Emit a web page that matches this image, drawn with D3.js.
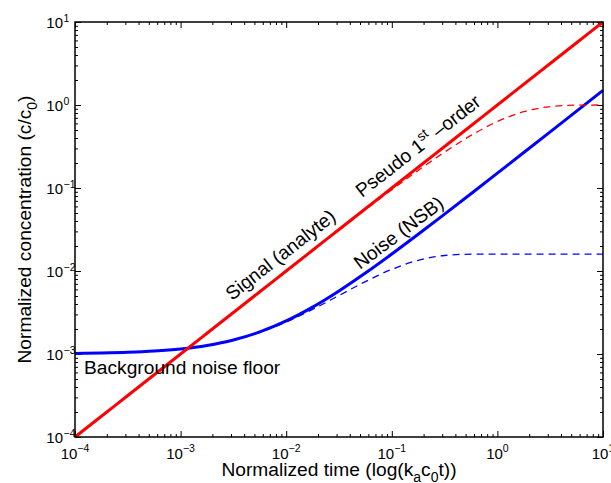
<!DOCTYPE html>
<html>
<head>
<meta charset="utf-8">
<script src="https://cdn.jsdelivr.net/npm/d3@7"></script>
<style>
  body { margin: 0; background: #fff; }
  svg { display: block; font-family: "Liberation Sans", Arial, sans-serif; }
</style>
</head>
<body>
<svg id="chart" width="611" height="483"></svg>
<script>
var width = 611, height = 483
var margin = {top: 22, right: 8, bottom: 46, left: 75}

// normalized time samples (quarter decades)
var times = [1e-4, 1.778e-4, 3.162e-4, 5.623e-4, 1e-3, 1.778e-3, 3.162e-3, 5.623e-3,
  1e-2, 1.778e-2, 3.162e-2, 5.623e-2, 0.1, 0.1778, 0.3162, 0.5623, 1, 1.778, 3.162, 5.623, 10]

// signal (analyte), solid red
var signal = [1e-4, 1.778e-4, 3.162e-4, 5.623e-4, 1e-3, 1.778e-3, 3.162e-3, 5.623e-3,
  1e-2, 1.778e-2, 3.162e-2, 5.623e-2, 0.1, 0.1778, 0.3162, 0.5623, 1, 1.778, 3.162, 5.623, 10]

// pseudo first order, dashed red
var signalPseudo = [1e-4, 1.778e-4, 3.162e-4, 5.62e-4, 9.99e-4, 1.776e-3, 3.157e-3, 5.607e-3,
  9.95e-3, 0.01762, 0.03113, 0.05468, 0.09516, 0.1629, 0.2711, 0.4301, 0.6321, 0.831, 0.9577, 0.9964, 1.0]

// noise (NSB), solid blue
var noise = [1.015e-3, 1.027e-3, 1.047e-3, 1.084e-3, 1.15e-3, 1.267e-3, 1.474e-3, 1.844e-3,
  2.5e-3, 3.667e-3, 5.743e-3, 9.435e-3, 0.016, 0.02767, 0.04843, 0.08535, 0.151, 0.2677, 0.4753, 0.8445, 1.501]

// noise saturating, dashed blue
var noiseSat = [1.015e-3, 1.027e-3, 1.047e-3, 1.084e-3, 1.149e-3, 1.264e-3, 1.467e-3, 1.82e-3,
  2.427e-3, 3.444e-3, 5.067e-3, 7.452e-3, 0.01048, 0.01347, 0.01537, 0.01595, 0.016, 0.016, 0.016, 0.016, 0.016]

var majorTicks = [1e-4, 1e-3, 1e-2, 1e-1, 1, 10]
var exponents = ['\u22124', '\u22123', '\u22122', '\u22121', '0', '1']

var svg = d3.select('#chart')

var xScale = d3.scaleLog()
  .domain([1e-4, 10])
  .range([margin.left, width - margin.right])

var yScale = d3.scaleLog()
  .domain([1e-4, 10])
  .range([height - margin.bottom, margin.top])

var x0 = margin.left, x1 = width - margin.right
var y0 = height - margin.bottom, y1 = margin.top

var minorX = xScale.ticks().filter(d => majorTicks.indexOf(d) < 0)
var minorY = yScale.ticks().filter(d => majorTicks.indexOf(d) < 0)

// inward ticks on all four sides
function tickAxes(axisFn, scale, vals, size, transform) {
  svg.append('g')
    .attr('transform', transform)
    .call(axisFn(scale).tickValues(vals).tickSize(size).tickFormat('').tickSizeOuter(0))
    .call(g => g.select('.domain').remove())
    .selectAll('line')
    .attr('stroke', '#000')
    .attr('stroke-width', 1)
}
tickAxes(d3.axisBottom, xScale, majorTicks, -6, `translate(0,${y0})`)
tickAxes(d3.axisBottom, xScale, minorX, -3, `translate(0,${y0})`)
tickAxes(d3.axisTop, xScale, majorTicks, -6, `translate(0,${y1})`)
tickAxes(d3.axisTop, xScale, minorX, -3, `translate(0,${y1})`)
tickAxes(d3.axisLeft, yScale, majorTicks, -6, `translate(${x0},0)`)
tickAxes(d3.axisLeft, yScale, minorY, -3, `translate(${x0},0)`)
tickAxes(d3.axisRight, yScale, majorTicks, -6, `translate(${x1},0)`)
tickAxes(d3.axisRight, yScale, minorY, -3, `translate(${x1},0)`)

// curves
var lineFor = function(vals) {
  return d3.line()
    .x((d, i) => xScale(times[i]))
    .y(d => yScale(d))
    .curve(d3.curveMonotoneX)(vals)
}

var plot = svg.append('g')
plot.append('path').attr('d', lineFor(noiseSat))
  .attr('fill', 'none').attr('stroke', '#0000ff').attr('stroke-width', 1.3).attr('stroke-dasharray', '7,5')
plot.append('path').attr('d', lineFor(noise))
  .attr('fill', 'none').attr('stroke', '#0000ff').attr('stroke-width', 3)
plot.append('path').attr('d', lineFor(signalPseudo))
  .attr('fill', 'none').attr('stroke', '#ff0000').attr('stroke-width', 1.3).attr('stroke-dasharray', '7,5')
plot.append('path').attr('d', lineFor(signal))
  .attr('fill', 'none').attr('stroke', '#ff0000').attr('stroke-width', 3)

// frame
svg.append('rect')
  .attr('x', x0).attr('y', y1)
  .attr('width', x1 - x0).attr('height', y0 - y1)
  .attr('fill', 'none').attr('stroke', '#000').attr('stroke-width', 1.5)

// x tick labels
majorTicks.forEach(function(v, i) {
  var t = svg.append('text')
    .attr('x', xScale(v)).attr('y', y0 + 22)
    .attr('text-anchor', 'middle')
    .attr('font-size', 15)
  t.append('tspan').text('10')
  t.append('tspan').text(exponents[i]).attr('font-size', 10.5).attr('dy', -7)
})

// y tick labels
majorTicks.forEach(function(v, i) {
  svg.append('text')
    .attr('x', x0 - 12).attr('y', yScale(v) + 6)
    .attr('text-anchor', 'end')
    .attr('font-size', 15)
    .text('10')
  svg.append('text')
    .attr('x', x0 - 11.5).attr('y', yScale(v))
    .attr('font-size', 10.5)
    .text(exponents[i])
})

// axis titles
var xt = svg.append('text')
  .attr('x', (x0 + x1) / 2).attr('y', 476)
  .attr('text-anchor', 'middle')
  .attr('font-size', 19.2)
xt.append('tspan').text('Normalized time (log(k')
xt.append('tspan').text('a').attr('font-size', 14).attr('dy', 6)
xt.append('tspan').text('c').attr('dy', -6)
xt.append('tspan').text('0').attr('font-size', 14).attr('dy', 6)
xt.append('tspan').text('t))').attr('dy', -6)

var yt = svg.append('text')
  .attr('transform', `translate(31,${(y0 + y1) / 2}) rotate(-90)`)
  .attr('text-anchor', 'middle')
  .attr('font-size', 19.2)
yt.append('tspan').text('Normalized concentration (c/c')
yt.append('tspan').text('0').attr('font-size', 14).attr('dy', 6)
yt.append('tspan').text(')').attr('dy', -6)

// annotations
function note(px, py, angle) {
  return svg.append('text')
    .attr('transform', `translate(${px},${py}) rotate(${angle})`)
    .attr('font-size', 19.2)
}
note(232, 301, -38).text('Signal (analyte)')
var ps = note(362, 198, -38)
ps.append('tspan').text('Pseudo 1')
ps.append('tspan').text('st').attr('font-size', 13.5).attr('dy', -8)
ps.append('tspan').text(' \u2013order').attr('dy', 8)
note(360, 270, -37).text('Noise (NSB)')
note(84, 374, 0).text('Background noise floor')
</script>
</body>
</html>
